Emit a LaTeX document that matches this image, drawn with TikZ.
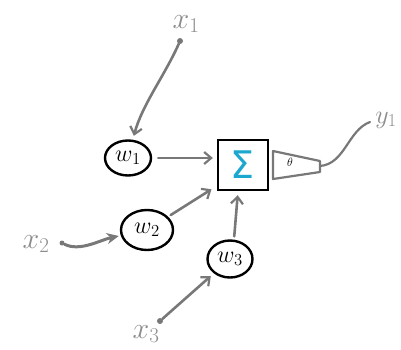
\documentclass[tikz,border=0pt]{standalone}
\usepackage{fix-cm}
\usepackage{fontspec}
\newfontfamily\djv{DejaVu Sans}
\usetikzlibrary{arrows.meta,shapes.geometric}
\definecolor{ln}{HTML}{787878}
\definecolor{lbl}{HTML}{8C8C8C}
\definecolor{sig}{HTML}{1BA7CE}
\begin{document}
\begin{tikzpicture}[x=1pt,y=-1pt,
  conn/.style={draw=ln, line width=2.6pt, line cap=round, shorten <=3pt, shorten >=4pt, -{Straight Barb[length=7pt,width=12pt,line width=2.2pt]}},
  wnode/.style={draw=black, line width=2.4pt, ellipse, inner sep=0pt, font=\fontsize{24}{26}\selectfont},
  lab/.style={text=lbl, inner sep=0pt, font=\fontsize{30}{30}\selectfont},
  dotc/.style={circle, fill=ln, inner sep=0pt, minimum size=6pt}]
\useasboundingbox (0,0) rectangle (401,349);
% weight nodes
\node[wnode, minimum width=46pt, minimum height=35pt] (w1) at (128,158) {$w_1$};
\node[wnode, minimum width=52pt, minimum height=40pt] (w2) at (147,230) {$w_2$};
\node[wnode, minimum width=45pt, minimum height=37pt] (w3) at (230,259) {$w_3$};
% sum box
\node[draw=black, line width=2.3pt, minimum width=50pt, minimum height=50pt, inner sep=0pt] (sum) at (243,165)
  {\djv\fontsize{38}{40}\selectfont\color{sig}Σ};
% activation (trapezoid)
\draw[draw=ln, line width=2.2pt, line join=round] (273,151) -- (320,161) -- (320,172) -- (273,179) -- cycle;
\node[inner sep=0pt, font=\fontsize{12}{12}\selectfont] (th) at (290,162) {$\theta$};
\coordinate (tout) at (320,166);
% labels
\node[lab] (x1) at (186,24) {$x_{1}$};
\node[lab] (x2) at (36,244) {$x_{2}$};
\node[lab] (x3) at (146,334) {$x_{3}$};
\node[lab, font=\fontsize{26}{26}\selectfont] (y1) at (386,120) {$y_{1}$};
% start dots
\node[dotc] (d1) at (180,41) {};
\node[dotc, minimum size=5pt] (d2) at (62,243) {};
\node[dotc] (d3) at (160,321) {};
\coordinate (yend) at (370,122);
\coordinate (s1) at (sum.west |- w1.east);
\coordinate (s2) at ([xshift=-2pt,yshift=4pt]sum.south west);
\coordinate (s3) at ([xshift=-5pt]sum.south);
\coordinate (w3t) at ([xshift=4pt]w3.north);
% connectors
\draw[conn, shorten <=0pt] (d1) .. controls (165,75) and (142,105) .. (w1);
\draw[draw=ln, line width=3pt, line cap=round, shorten >=2pt, -{Stealth[length=12pt,width=11pt]}] (d2) .. controls (80,252) and (100,240) .. (w2);
\draw[conn, shorten <=0pt] (d3) -- (w3);
\draw[conn, shorten <=6pt] (w1.east) -- (s1);
\draw[conn] (w2) -- (s2);
\draw[conn] (w3t) -- (s3);
\draw[draw=ln, line width=2.2pt, line cap=round] (tout) .. controls (345,164) and (348,130) .. (yend);
\end{tikzpicture}
\end{document}
